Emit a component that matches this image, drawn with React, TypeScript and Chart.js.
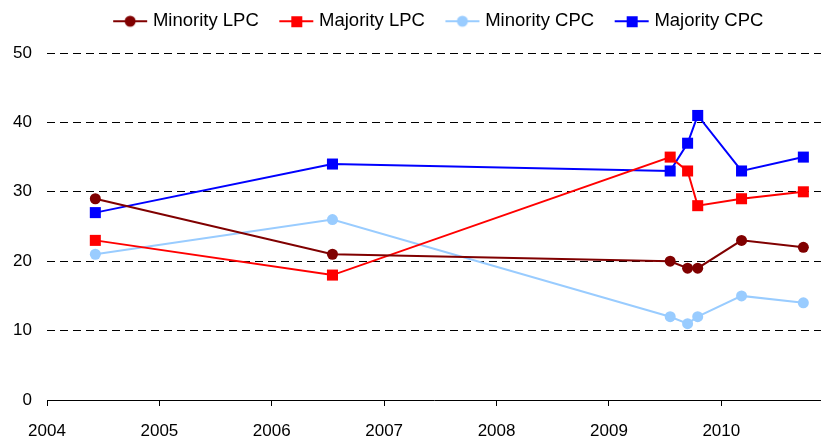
import React, { useEffect, useRef } from "react";
import { Chart, registerables } from "chart.js";

Chart.register(...registerables);

const xDates = [2004.43, 2006.54, 2009.545, 2009.7, 2009.79, 2010.18, 2010.73];
const minorityLPC = [29, 21, 20, 19, 19, 23, 22];
const majorityLPC = [23, 18, 35, 33, 28, 29, 30];
const minorityCPC = [21, 26, 12, 11, 12, 15, 14];
const majorityCPC = [27, 34, 33, 37, 41, 33, 35];
const seriesNames = ["Minority LPC", "Majority LPC", "Minority CPC", "Majority CPC"];
const seriesColors = ["#800000", "#ff0000", "#99ccff", "#0000ff"];
const seriesShapes = ["circle", "rect", "circle", "rect"];

const FONT = "'Liberation Sans', Arial, sans-serif";

function legendIcon(color: string, shape: string): HTMLCanvasElement {
  const c = document.createElement("canvas");
  c.width = 48;
  c.height = 14;
  const g = c.getContext("2d")!;
  g.strokeStyle = color;
  g.lineWidth = 2;
  g.beginPath();
  g.moveTo(13, 7);
  g.lineTo(47, 7);
  g.stroke();
  g.fillStyle = color;
  if (shape === "circle") {
    g.beginPath();
    g.arc(30, 7, 5.5, 0, Math.PI * 2);
    g.fill();
  } else {
    g.fillRect(25, 2, 11, 11);
  }
  return c;
}

const legendHeightPlugin = {
  id: "legendHeight",
  beforeLayout(chart: any) {
    const lg = chart.legend;
    if (lg && !lg._fixedH) {
      const orig = lg.fit.bind(lg);
      lg.fit = function () {
        orig();
        this.height = 53;
      };
      lg._fixedH = true;
    }
  },
};

export default function App() {
  const ref = useRef<HTMLCanvasElement>(null);
  useEffect(() => {
    document.body.style.margin = "0";
    const all = [minorityLPC, majorityLPC, minorityCPC, majorityCPC];
    const icons = seriesColors.map((c, i) => legendIcon(c, seriesShapes[i]));
    const chart = new Chart(ref.current!, {
      type: "line",
      plugins: [legendHeightPlugin],
      data: {
        datasets: all.map((vals, i) => ({
          label: seriesNames[i],
          data: vals.map((v, j) => ({ x: xDates[j], y: v })),
          borderColor: seriesColors[i],
          backgroundColor: seriesColors[i],
          borderWidth: 2,
          pointStyle: seriesShapes[i] as any,
          pointRadius: seriesShapes[i] === "rect" ? 7.8 : 5.5,
          pointBorderWidth: 0,
          tension: 0,
        })),
      },
      options: {
        animation: false,
        responsive: true,
        maintainAspectRatio: false,
        layout: { padding: 0, autoPadding: false },
        plugins: {
          tooltip: { enabled: false },
          legend: {
            position: "top",
            fullSize: false,
            labels: {
              usePointStyle: true,
              pointStyleWidth: 39,
              padding: 12,
              color: "#000",
              font: { family: FONT, size: 18.5 },
              generateLabels: () =>
                seriesNames.map((n, i) => ({
                  text: n,
                  pointStyle: icons[i] as any,
                  fillStyle: seriesColors[i],
                  strokeStyle: seriesColors[i],
                  lineWidth: 0,
                  hidden: false,
                  datasetIndex: i,
                  fontColor: "#000",
                })),
            },
          },
        },
        scales: {
          x: {
            type: "linear",
            min: 2004,
            max: 2010.887,
            afterFit: (s: any) => {
              s.height = 43;
              s.paddingLeft = 0;
              s.paddingRight = 0;
            },
            ticks: {
              stepSize: 1,
              includeBounds: false,
              color: "#000",
              font: { family: FONT, size: 17 },
              padding: 15,
              maxRotation: 0,
              callback: (v: any) => String(v),
            },
            grid: {
              drawOnChartArea: false,
              drawTicks: true,
              tickLength: 6,
              color: "#000",
            },
            border: { display: true, color: "#000", width: 1 },
          },
          y: {
            min: 0,
            max: 50,
            afterFit: (s: any) => {
              s.width = 47;
            },
            ticks: {
              stepSize: 10,
              color: "#000",
              font: { family: FONT, size: 17 },
              padding: 15,
            },
            grid: {
              drawTicks: false,
              color: (ctx: any) => (ctx.tick && ctx.tick.value === 0 ? "rgba(0,0,0,0)" : "#000"),
              lineWidth: 1,
            },
            border: { display: false, dash: [8, 5] },
          },
        },
      },
    });
    return () => chart.destroy();
  }, []);
  return (
    <div style={{ position: "absolute", left: 0, top: 0, width: 821, height: 443 }}>
      <canvas ref={ref} />
    </div>
  );
}
